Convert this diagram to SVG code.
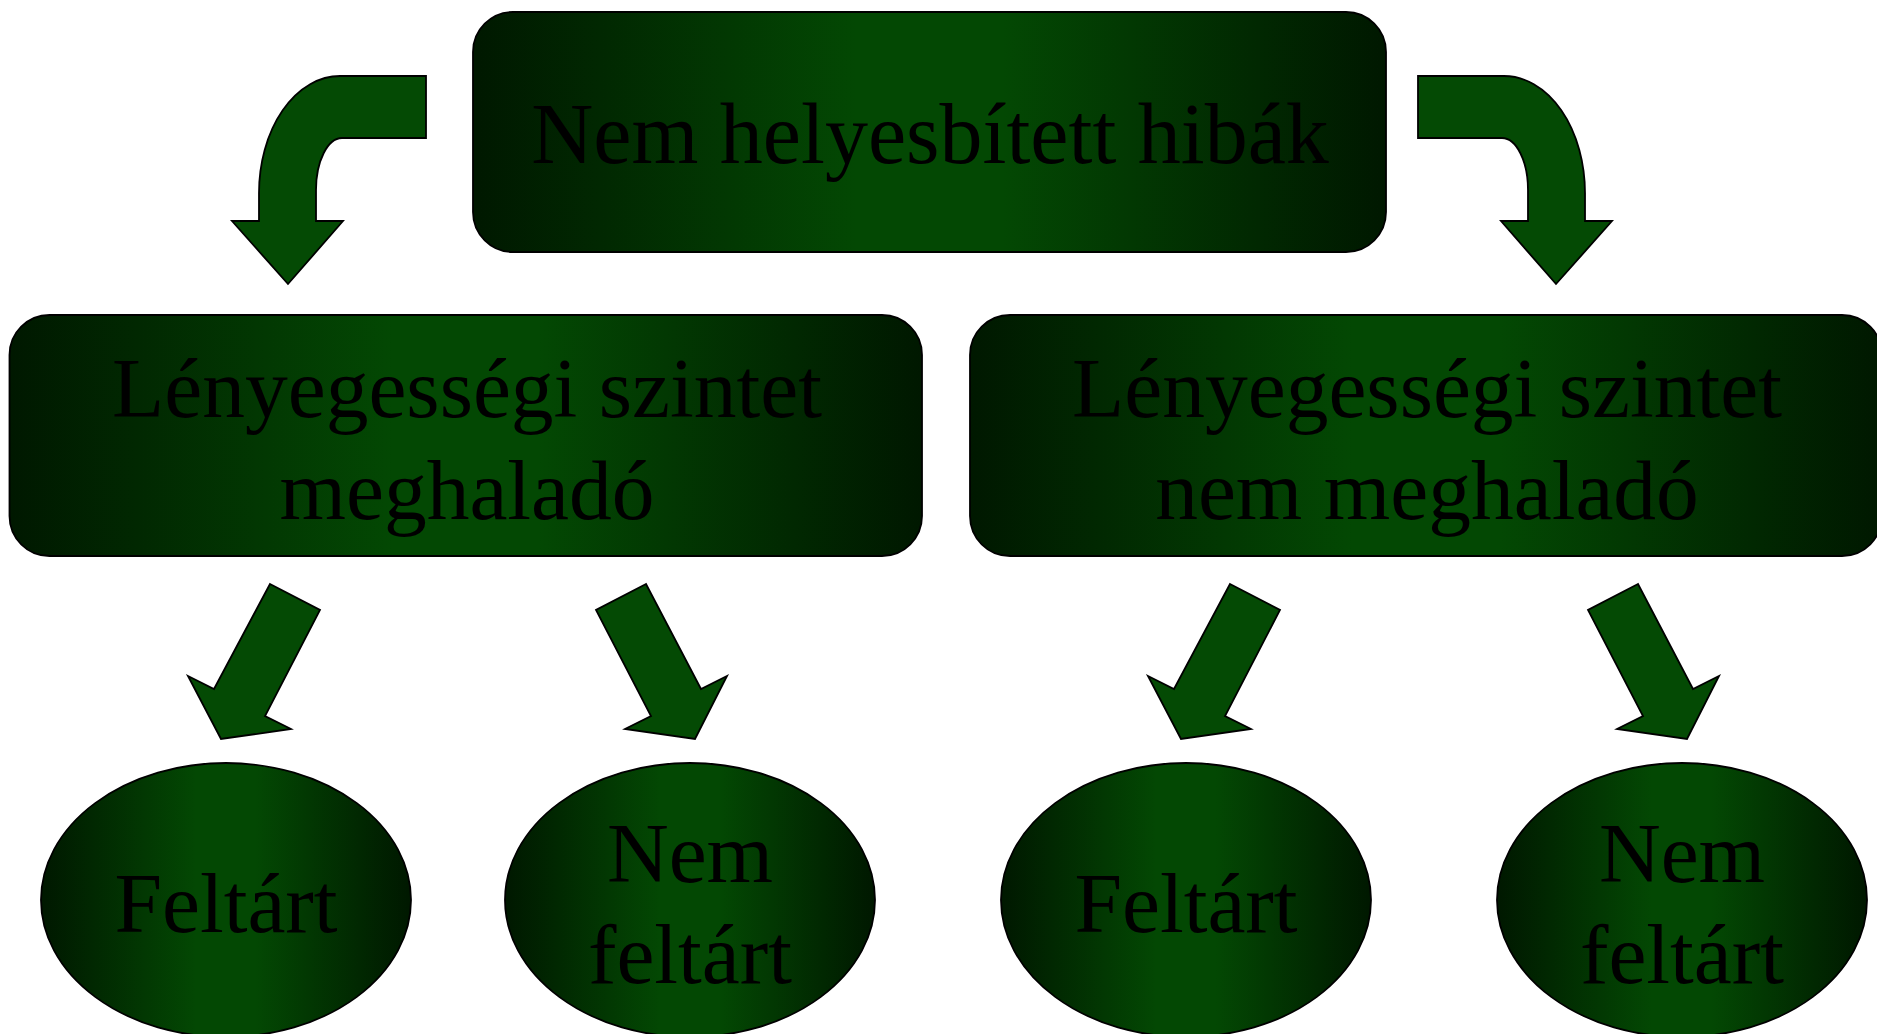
<svg xmlns="http://www.w3.org/2000/svg" xmlns:xlink="http://www.w3.org/1999/xlink" width="1877" height="1034" viewBox="0 0 1877 1034">
<style>
  .node { fill: url(#g); stroke: #000; stroke-width: 1.8; }
  .arrow { fill: #044a04; stroke: #000; stroke-width: 1.8; stroke-linejoin: miter; }
  .lbl { font-family: "Liberation Serif", "Times New Roman", serif; fill: #000; text-anchor: middle; }
  .big { font-size: 86px; }
  .mid { font-size: 85.5px; }
</style>
<defs>
  <linearGradient id="g" x1="0" y1="0" x2="1" y2="0">
    <stop offset="0" stop-color="#001800"/>
    <stop offset="0.42" stop-color="#034803"/>
    <stop offset="0.58" stop-color="#034803"/>
    <stop offset="1" stop-color="#001800"/>
  </linearGradient>
  <polygon id="dl" points="270,584 320,610 265,716 291,729 221,739 188,676 214,689"/>
  <polygon id="dr" points="646,584 596,610 651,716 625,729 695,739 727,676 701,689"/>
</defs>
<rect width="1877" height="1034" fill="#fff"/>
<g id="connectors">
  <path class="arrow" d="M426,76 L340,76 A81,117 0 0 0 259,193 L259,221 L232,221 L288,284 L343,221 L316,221 L316,190 A26,52 0 0 1 342,138 L426,138 Z"/>
  <path class="arrow" d="M1418,76 L1504,76 A81,117 0 0 1 1585,193 L1585,221 L1612,221 L1556,284 L1501,221 L1528,221 L1528,190 A26,52 0 0 0 1502,138 L1418,138 Z"/>
  <use xlink:href="#dl" class="arrow"/>
  <use xlink:href="#dr" class="arrow"/>
  <use xlink:href="#dl" class="arrow" transform="translate(960,0)"/>
  <use xlink:href="#dr" class="arrow" transform="translate(992,0)"/>
</g>
<g id="root">
  <rect class="node" x="473" y="12" width="913" height="240" rx="40" ry="40"/>
  <text class="lbl big" x="930" y="163">Nem helyesbített hibák</text>
</g>
<g id="material">
  <rect class="node" x="9.5" y="315" width="912.5" height="241" rx="40" ry="40"/>
  <text class="lbl mid" x="467" y="417">Lényegességi szintet</text>
  <text class="lbl mid" x="467" y="519">meghaladó</text>
</g>
<g id="immaterial">
  <rect class="node" x="970" y="315" width="912" height="241" rx="40" ry="40"/>
  <text class="lbl mid" x="1427" y="417">Lényegességi szintet</text>
  <text class="lbl mid" x="1427" y="519">nem meghaladó</text>
</g>
<g id="m-found">
  <ellipse class="node" cx="226" cy="900" rx="185" ry="137"/>
  <text class="lbl mid" x="226" y="932">Feltárt</text>
</g>
<g id="m-notfound">
  <ellipse class="node" cx="690" cy="900" rx="185" ry="137"/>
  <text class="lbl mid" x="690" y="882">Nem</text>
  <text class="lbl mid" x="690" y="983">feltárt</text>
</g>
<g id="i-found">
  <ellipse class="node" cx="1186" cy="900" rx="185" ry="137"/>
  <text class="lbl mid" x="1186" y="932">Feltárt</text>
</g>
<g id="i-notfound">
  <ellipse class="node" cx="1682" cy="900" rx="185" ry="137"/>
  <text class="lbl mid" x="1682" y="882">Nem</text>
  <text class="lbl mid" x="1682" y="983">feltárt</text>
</g>
</svg>
